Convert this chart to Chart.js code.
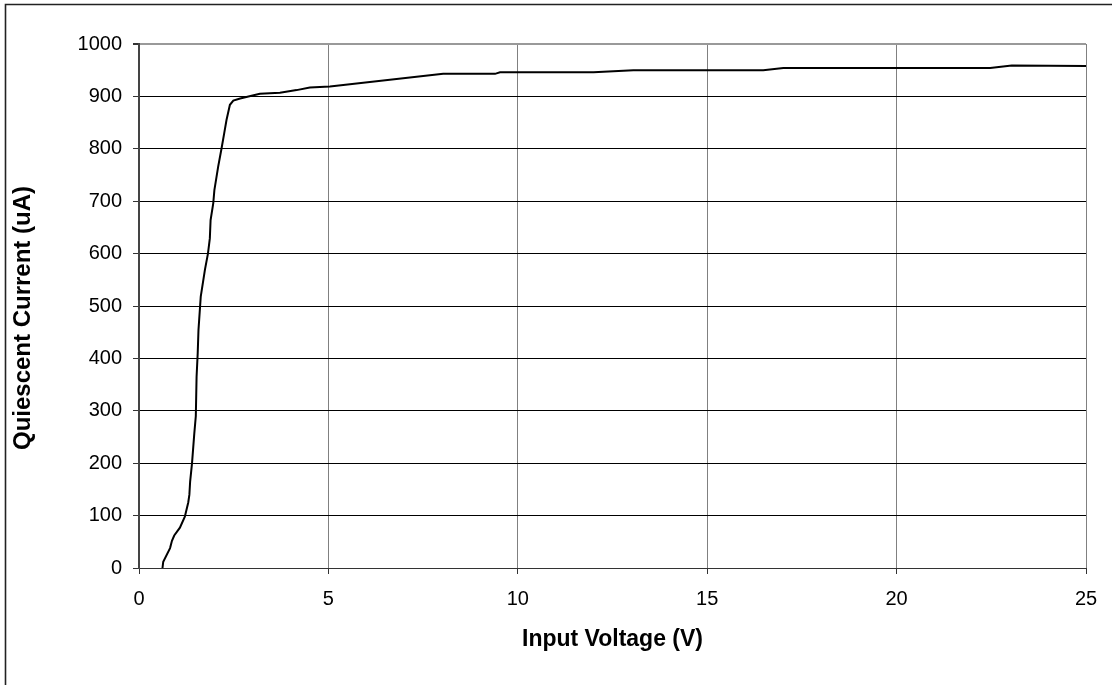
<!DOCTYPE html>
<html>
<head>
<meta charset="utf-8">
<script src="https://cdn.jsdelivr.net/npm/chart.js@4/dist/chart.umd.min.js"></script>
<style>
  html, body { margin: 0; padding: 0; background: #fff; }
  #wrap { width: 1112px; height: 685px; }
</style>
</head>
<body>
<div id="wrap"><canvas id="iqChart" width="1112" height="685"></canvas></div>
<script>
// Quiescent current vs input voltage
const voltage = [0.62, 0.64, 0.82, 0.87, 0.93, 1.08, 1.21, 1.30, 1.33, 1.35, 1.40, 1.46, 1.50, 1.52,
  1.55, 1.57, 1.63, 1.74, 1.82, 1.87, 1.89, 1.96, 1.99, 2.09, 2.18, 2.25, 2.31, 2.40, 2.49, 2.67,
  3.19, 3.72, 4.16, 4.51, 5.04, 8.03, 9.40, 9.53, 12.0, 13.05, 16.48, 17.01, 22.47, 23.04, 25];
const current = [0, 12, 38, 52, 62, 77, 98, 125, 140, 165, 200, 257, 290, 365,
  410, 454, 518, 569, 600, 629, 664, 696, 721, 766, 801, 830, 855, 884, 892, 896,
  905, 907, 912, 917, 919, 943, 943, 946, 946, 950, 950, 954, 954, 959, 958];
const xTicks = [0, 5, 10, 15, 20, 25];
const yTicks = [0, 100, 200, 300, 400, 500, 600, 700, 800, 900, 1000];

const xTitle = 'Input Voltage (V)';
const yTitle = 'Quiescent Current (uA)';

const points = voltage.map((v, i) => ({ x: v, y: current[i] }));

const FONT = '"Liberation Sans", Arial, sans-serif';

// outer frame + axis titles (drawn by hand so they sit where Excel put them)
const frameAndTitles = {
  id: 'frameAndTitles',
  afterDraw(chart) {
    const c = chart.ctx;
    const a = chart.chartArea;
    c.save();
    c.strokeStyle = '#222';
    c.lineWidth = 1.6;
    c.beginPath();
    c.moveTo(5.5, 700);
    c.lineTo(5.5, 4.5);
    c.lineTo(1200, 4.5);
    c.stroke();

    c.fillStyle = '#000';
    c.font = 'bold 23px ' + FONT;
    c.textAlign = 'center';
    c.textBaseline = 'middle';
    c.fillText(xTitle, (a.left + a.right) / 2, 640);

    c.font = 'bold 24px ' + FONT;
    c.translate(23, 318);
    c.rotate(-Math.PI / 2);
    c.fillText(yTitle, 0, 0);
    c.restore();
  }
};

new Chart(document.getElementById('iqChart'), {
  type: 'line',
  data: {
    datasets: [{
      data: points,
      borderColor: '#000',
      borderWidth: 2,
      pointRadius: 0,
      tension: 0,
      fill: false
    }]
  },
  options: {
    responsive: false,
    animation: false,
    layout: { padding: { top: 44, right: 26, left: 0, bottom: 0 } },
    plugins: { legend: { display: false }, tooltip: { enabled: false } },
    scales: {
      x: {
        type: 'linear',
        min: 0,
        max: 25,
        afterBuildTicks: s => { s.ticks = xTicks.map(v => ({ value: v })); },
        afterFit: s => { s.height = 117; },
        grid: {
          color: '#808080',
          lineWidth: 1,
          tickLength: 6,
          tickColor: '#333'
        },
        border: { color: '#333', width: 1 },
        ticks: {
          color: '#000',
          padding: 13,
          maxRotation: 0,
          callback: v => String(v),
          font: { family: FONT, size: 20 }
        }
      },
      y: {
        min: 0,
        max: 1000,
        afterBuildTicks: s => { s.ticks = yTicks.map(v => ({ value: v })); },
        afterFit: s => { s.width = 139; },
        grid: {
          color: ctx => (ctx.tick && ctx.tick.value === 1000) ? '#999' : '#000',
          lineWidth: ctx => (ctx.tick && ctx.tick.value === 1000) ? 2 : 1,
          tickLength: 6,
          tickColor: '#333'
        },
        border: { color: '#444', width: 2 },
        ticks: {
          color: '#000',
          padding: 11,
          callback: v => String(v),
          font: { family: FONT, size: 20 }
        }
      }
    }
  },
  plugins: [frameAndTitles]
});
</script>
</body>
</html>
